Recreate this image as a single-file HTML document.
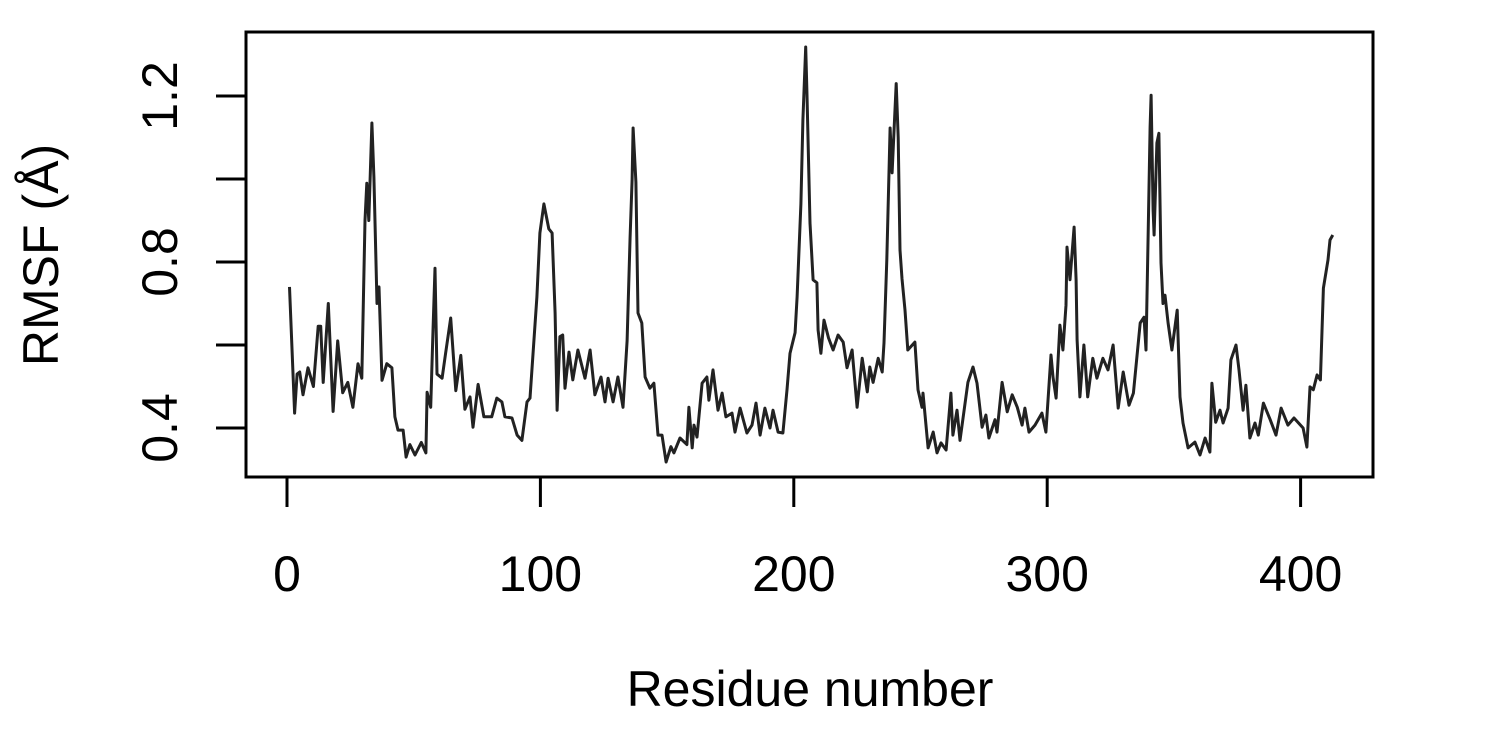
<!DOCTYPE html>
<html><head><meta charset="utf-8"><style>
body{margin:0;background:#fff;}
svg{display:block;font-family:"Liberation Sans",Arial,sans-serif;}
</style></head><body>
<svg id="chart" width="1500" height="732" viewBox="0 0 1500 732" xmlns="http://www.w3.org/2000/svg">
<rect width="1500" height="732" fill="#fff"/>
<g id="axes"></g>
<path id="line" fill="none" stroke="#222" stroke-width="3" stroke-linejoin="round"/>
<rect x="246" y="32" width="1127" height="445" fill="none" stroke="#000" stroke-width="3"/>
<text x="810" y="706" font-size="50" text-anchor="middle">Residue number</text>
<text transform="translate(58,255) rotate(-90)" font-size="50" text-anchor="middle">RMSF (Å)</text>
</svg>
<script>
const residues=[1,3,4,5,6.3,8.3,10.4,12.3,13.3,14.3,16.3,18.2,20,22,24,26,28,29.5,30.8,31.5,32.3,33.5,34.3,35.5,36.3,37.5,39.4,41.4,42.6,43.8,45.8,47,48.5,50.5,53,54.8,55.3,56.7,57.6,58.4,59.2,61.2,62.6,64.6,66.6,68.6,70.2,72.2,73.4,75.4,77.7,80.8,82.8,84.8,86,88.8,90.8,92.7,94.7,95.9,98.6,99.8,101.4,103.3,104.6,105.8,106.6,107.7,108.8,109.7,111.3,112.8,114.8,117.6,119.6,121.5,123.9,125.5,126.7,128.7,130.6,132.6,134.2,135.4,136.2,136.6,137.7,138.5,140,141.3,143.2,144.8,146.4,148,149.6,151.5,152.7,155.1,157.8,158.6,159.9,160.6,161.8,163.8,165.7,166.5,168.1,170.1,171.7,173.2,175.6,176.8,178.8,181.5,183.5,185.1,186.7,188.6,190.6,191.8,193.8,195.7,197.3,198.5,200.5,201.3,202.8,203.6,204.7,205.2,206.4,207.6,209.1,209.6,210.7,211.9,213.7,215.5,217.5,219.5,221,223,225,227,229,230,231.3,233.3,234.9,235.6,236.7,238,238.8,240.4,241.2,241.9,242.7,243.9,245,247.8,249,250.6,251,253,255,256.5,258.1,260.1,262,262.8,264.4,265.6,268.7,270.7,272.3,274.3,275.8,277,279.4,280.2,282.2,284.2,286.2,288.2,290.1,291.2,292.8,295.2,297.9,299.5,301.5,302.3,303.5,305,306.2,307.4,307.8,309,310.6,311.4,311.8,312.9,314.5,316,318,319.6,322,324,326,328,330,332.3,334,336.7,338.2,339,339.8,340.6,341,341.8,342.2,343.3,344.1,344.9,345.7,346.5,347.7,349.2,351.3,352.4,353.6,355.6,358.3,360.3,362.3,364.2,365,366.5,368.2,369.4,371.4,372.5,374.5,375.7,377.3,378.4,380,382,383.3,385.3,388,390.3,392.3,395,397.4,401,402.5,403.7,405,406.5,407.8,409,410.8,411.6,412.7];
const rmsf=[0.74,0.436,0.53,0.535,0.48,0.545,0.50,0.645,0.645,0.51,0.70,0.44,0.61,0.485,0.51,0.45,0.555,0.52,0.90,0.99,0.90,1.135,1.005,0.70,0.74,0.515,0.555,0.545,0.427,0.395,0.395,0.33,0.36,0.335,0.365,0.34,0.486,0.45,0.635,0.785,0.53,0.52,0.58,0.665,0.49,0.575,0.445,0.475,0.402,0.505,0.427,0.427,0.472,0.463,0.427,0.424,0.383,0.37,0.463,0.472,0.716,0.87,0.94,0.88,0.87,0.677,0.443,0.62,0.624,0.496,0.583,0.516,0.588,0.52,0.588,0.48,0.523,0.463,0.52,0.463,0.523,0.45,0.61,0.86,0.998,1.123,0.993,0.677,0.653,0.523,0.496,0.508,0.383,0.383,0.318,0.355,0.34,0.376,0.36,0.45,0.352,0.407,0.378,0.508,0.523,0.467,0.54,0.443,0.484,0.427,0.436,0.39,0.448,0.388,0.407,0.46,0.383,0.448,0.40,0.443,0.39,0.388,0.492,0.58,0.63,0.716,0.94,1.142,1.318,1.202,0.894,0.757,0.75,0.636,0.58,0.66,0.617,0.588,0.624,0.607,0.545,0.588,0.45,0.568,0.487,0.547,0.51,0.568,0.535,0.605,0.805,1.123,1.015,1.23,1.10,0.829,0.76,0.684,0.588,0.607,0.492,0.45,0.484,0.352,0.39,0.34,0.364,0.347,0.484,0.383,0.443,0.37,0.51,0.547,0.508,0.402,0.431,0.376,0.42,0.39,0.51,0.439,0.48,0.45,0.407,0.448,0.39,0.407,0.436,0.39,0.576,0.523,0.472,0.648,0.588,0.696,0.836,0.757,0.884,0.757,0.612,0.475,0.60,0.475,0.568,0.52,0.568,0.54,0.60,0.448,0.535,0.455,0.484,0.653,0.667,0.588,0.86,1.125,1.202,0.925,0.865,1.087,1.11,0.798,0.70,0.72,0.653,0.588,0.684,0.475,0.412,0.352,0.366,0.335,0.376,0.342,0.508,0.414,0.443,0.412,0.448,0.564,0.60,0.54,0.443,0.503,0.376,0.412,0.383,0.46,0.42,0.383,0.448,0.407,0.424,0.40,0.354,0.499,0.492,0.528,0.516,0.737,0.805,0.853,0.865];
const xTicks=[0,100,200,300,400];
const yTicks=[0.4,0.6,0.8,1.0,1.2];
const yLabels=["0.4","","0.8","","1.2"];
const sx=v=>287+v*2.534;
const sy=v=>428-(v-0.4)*415;
const NS="http://www.w3.org/2000/svg";
const axes=document.getElementById('axes');
xTicks.forEach(t=>{
  const l=document.createElementNS(NS,'line');
  l.setAttribute('x1',sx(t));l.setAttribute('x2',sx(t));l.setAttribute('y1',477);l.setAttribute('y2',507);
  l.setAttribute('stroke','#000');l.setAttribute('stroke-width','3');
  
  
  axes.appendChild(l);
  const tx=document.createElementNS(NS,'text');
  tx.setAttribute('x',sx(t));tx.setAttribute('y',591);tx.setAttribute('font-size','50');tx.setAttribute('text-anchor','middle');
  tx.textContent=t;
  
  
  axes.appendChild(tx);
});
yTicks.forEach((t,i)=>{
  const l=document.createElementNS(NS,'line');
  l.setAttribute('x1',216);l.setAttribute('x2',246);l.setAttribute('y1',sy(t));l.setAttribute('y2',sy(t));
  l.setAttribute('stroke','#000');l.setAttribute('stroke-width','3');
  
  
  axes.appendChild(l);
  if(yLabels[i]){
    const tx=document.createElementNS(NS,'text');
    tx.setAttribute('transform','translate(177,'+sy(t)+') rotate(-90)');
    tx.setAttribute('font-size','50');tx.setAttribute('text-anchor','middle');
    tx.textContent=yLabels[i];
    
    
    axes.appendChild(tx);
  }
});
document.getElementById('line').setAttribute('d',residues.map((r,i)=>(i?'L':'M')+sx(r).toFixed(1)+' '+sy(rmsf[i]).toFixed(1)).join(' '));
</script>
</body></html>
